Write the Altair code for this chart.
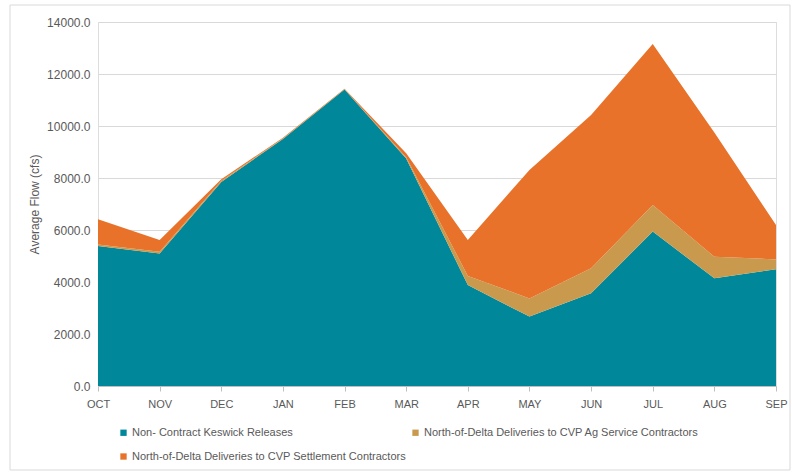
import altair as alt
import pandas as pd

months = ["OCT", "NOV", "DEC", "JAN", "FEB", "MAR", "APR", "MAY", "JUN", "JUL", "AUG", "SEP"]

keswick = [5380, 5100, 7850, 9500, 11400, 8750, 3880, 2670, 3570, 5940, 4140, 4490]
ag_service = [60, 60, 40, 20, 10, 50, 350, 700, 960, 1020, 830, 380]
settlement = [970, 460, 60, 30, 20, 150, 1385, 4940, 5890, 6190, 4780, 1320]

series_names = [
    "Non- Contract Keswick Releases",
    "North-of-Delta Deliveries to CVP Ag Service Contractors",
    "North-of-Delta Deliveries to CVP Settlement Contractors",
]
series_colors = ["#00889A", "#C99A4E", "#E8722A"]

rows = []
for rank, (name, vals) in enumerate(zip(series_names, [keswick, ag_service, settlement])):
    for m, v in zip(months, vals):
        rows.append({"month": m, "series": name, "flow": v, "rank": rank})
df = pd.DataFrame(rows)

# legend grid fills column by column: list entries so rows read teal, gold / orange
legend_order = [series_names[0], series_names[2], series_names[1]]
legend_colors = [series_colors[0], series_colors[2], series_colors[1]]

FONT = "Liberation Sans"
GRAY = "#595959"

areas = alt.Chart(df).mark_area(opacity=1).encode(
    x=alt.X(
        "month:O",
        sort=months,
        scale=alt.Scale(type="point", padding=0),
        axis=alt.Axis(
            title=None,
            labelAngle=0,
            labelFont=FONT,
            labelFontSize=11,
            labelColor=GRAY,
            labelPadding=7,
            domainColor="#BFBFBF",
            tickColor="#BFBFBF",
            tickSize=5,
            grid=False,
        ),
    ),
    y=alt.Y(
        "flow:Q",
        stack="zero",
        scale=alt.Scale(domain=[0, 14000], nice=False),
        axis=alt.Axis(
            title="Average Flow (cfs)",
            titleFont=FONT,
            titleFontSize=12,
            titleFontWeight="normal",
            titleColor=GRAY,
            titlePadding=5,
            format=".1f",
            values=list(range(0, 14001, 2000)),
            labelFont=FONT,
            labelFontSize=12,
            labelColor=GRAY,
            labelPadding=8,
            domain=False,
            ticks=False,
            gridColor="#D9D9D9",
        ),
    ),
    color=alt.Color(
        "series:N",
        scale=alt.Scale(domain=legend_order, range=legend_colors),
        legend=alt.Legend(
            title=None,
            orient="none",
            legendX=20,
            legendY=405,
            columns=2,
            columnPadding=4,
            rowPadding=12,
            symbolType="square",
            symbolSize=40,
            symbolStrokeWidth=0,
            labelFont=FONT,
            labelFontSize=11,
            labelColor=GRAY,
            labelLimit=400,
            labelOffset=3,
        ),
    ),
    order=alt.Order("rank:Q", sort="ascending"),
)

# light frame around the whole figure
frame = alt.Chart(pd.DataFrame({"k": [0]})).mark_rect(
    fill=None, stroke="#D9D9D9", strokeWidth=1, clip=False
).encode(
    x=alt.value(-88), x2=alt.value(692), y=alt.value(-17), y2=alt.value(448)
)

chart = alt.layer(frame, areas).properties(
    width=678,
    height=364,
    padding={"left": 98, "top": 22, "right": 16, "bottom": 86},
    autosize=alt.AutoSizeParams(type="none"),
).configure_view(stroke=None).configure(background="white")

chart.save("out.html", embed_options={"renderer": "svg", "actions": False})
